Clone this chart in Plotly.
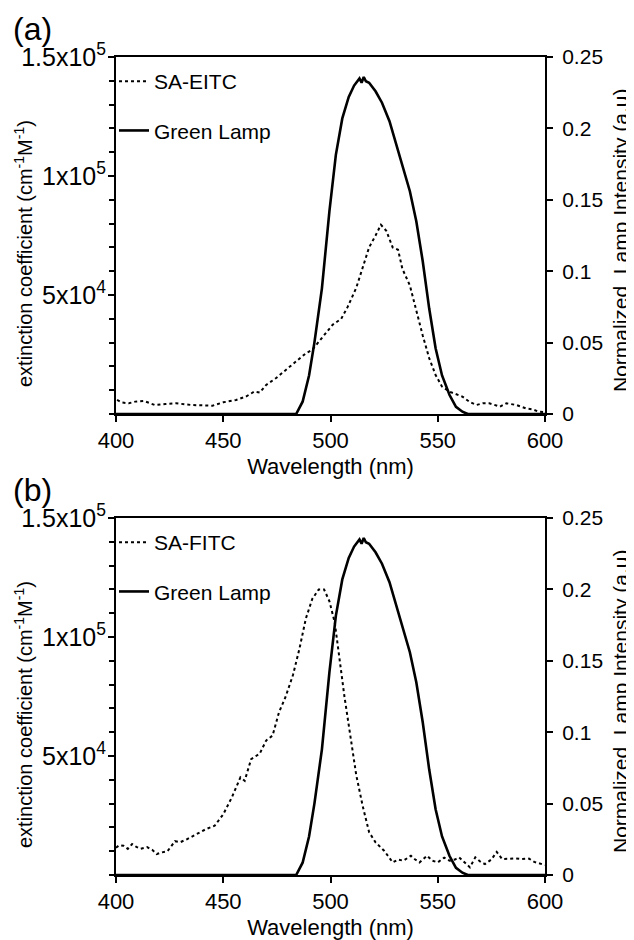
import plotly.graph_objects as go

# ---------------- data ----------------
lamp_nm = [400, 484, 487, 490, 492.5, 496, 499.5, 502.5, 505.5, 508.5, 511, 512.5, 513.5,
           514.5, 515.5, 516.5, 518, 521, 524, 527.5, 530.5, 533.5, 537, 540, 543, 546,
           549, 552, 555.5, 558.5, 561.5, 564, 600]
lamp_int = [0, 0, 0.0086, 0.027, 0.050, 0.088, 0.142, 0.1815, 0.207, 0.222, 0.230, 0.233,
            0.235, 0.232, 0.236, 0.233, 0.232, 0.226, 0.218, 0.205, 0.19, 0.1745, 0.156,
            0.135, 0.107, 0.074, 0.046, 0.027, 0.0133, 0.005, 0.0016, 0, 0]

eitc_nm = [400.5, 403, 406, 409, 413, 418, 423, 428, 435, 440, 445, 450, 456, 460.5, 464.5,
           467, 470, 474.5, 479, 484, 488.5, 491.5, 496, 501, 505, 508, 512, 515, 518,
           521, 523.5, 526, 529, 531.5, 533.5, 537, 540, 543, 546, 549, 552, 555.5,
           558, 561.5, 565, 568, 571, 574, 579, 582, 586.5, 591, 594, 597, 600]
eitc_ext = [5900, 4800, 4500, 5200, 5500, 3800, 4200, 4500, 3800, 3700, 3500, 4900, 5900,
            7300, 9400, 9000, 12200, 15000, 18500, 22000, 25500, 27000, 32000, 37500,
            40000, 45000, 53000, 62000, 70000, 75000, 79500, 77000, 70000, 69000, 61000,
            54000, 43000, 33000, 23500, 16400, 11500, 9400, 8500, 7300, 5000, 3800, 4500,
            4500, 3100, 4500, 3800, 2400, 2000, 1000, 800]

fitc_nm = [400, 401.5, 403.5, 405.5, 407.5, 409.5, 411.5, 414.5, 417, 419, 421.5, 424, 427.5,
           430, 433, 437.5, 442, 446, 450, 454, 458, 460, 463, 467, 470, 473, 476, 479, 482.5,
           485.5, 488.5, 491.5, 494.5, 497, 499.5, 502, 504, 506.5, 509, 512, 515, 518,
           521, 525, 529, 531.5, 534, 537.5, 539.5, 541.5, 545, 547.5, 550, 553, 555.5,
           558, 560, 562.5, 565, 567.5, 570, 572, 575, 577.5, 580, 583, 586, 589, 592.5,
           595, 598, 600]
fitc_ext = [11500, 12500, 12300, 11000, 13000, 11800, 11000, 11700, 10500, 8800, 9500,
            10000, 14200, 13800, 15000, 17200, 19300, 20700, 25500, 32600, 41000, 39600,
            48700, 51000, 56500, 58600, 68400, 74700, 84000, 95000, 107700, 116000, 120000,
            120000, 115000, 106000, 92000, 75000, 60000, 42000, 29000, 18000, 13700, 10200,
            5300, 6500, 6000, 8100, 6500, 5300, 8100, 6000, 5300, 7300, 6000, 6500, 7400,
            5500, 3200, 7400, 5500, 4600, 6500, 9700, 6700, 6800, 7000, 6700, 6900, 5500,
            4600, 4200]

x_tickvals = [400, 450, 500, 550, 600]
x_ticktext = ["400", "450", "500", "550", "600"]
ext_tickvals = [50000, 100000, 150000]
ext_ticktext = ["5x10<sup>4</sup>", "1x10<sup>5</sup>", "1.5x10<sup>5</sup>"]
lamp_tickvals = [0, 0.05, 0.1, 0.15, 0.2, 0.25]
lamp_ticktext = ["0", "0.05", "0.1", "0.15", "0.2", "0.25"]

panel_labels = ["(a)", "(b)"]
dye_names = ["SA-EITC", "SA-FITC"]
lamp_name = "Green Lamp"
x_title = "Wavelength (nm)"
left_title = "extinction coefficient (cm<sup>-1</sup>M<sup>-1</sup>)"
right_title = "Normalized  Lamp Intensity (a.u)"

# ---------------- layout geometry ----------------
# the page body has a default 8px margin, so the figure is offset by 8px
OFF = 8
WIN_W, WIN_H = 634, 940
W, H = WIN_W - OFF, WIN_H - OFF
# target pixel positions in the window
PL, PR = 116, 545          # plot left / right edges
TOP_T, TOP_B = 57, 414     # top panel
BOT_T, BOT_B = 518, 875    # bottom panel

ML = PL - OFF
MR = WIN_W - PR
MT = TOP_T - OFF
MB = WIN_H - BOT_B
PH = H - MT - MB
PW = W - ML - MR


def py(pix):  # window pixel y -> paper y
    return (WIN_H - MB - pix) / PH


def px(pix):  # window pixel x -> paper x
    return (pix - PL) / PW


FONT = "Arial, Liberation Sans, sans-serif"
top_dom = [py(TOP_B), 1.0]
bot_dom = [0.0, py(BOT_T)]

fig = go.Figure()

dye_data = [(eitc_nm, eitc_ext), (fitc_nm, fitc_ext)]
for i, (nm, ext) in enumerate(dye_data):
    xa = "x" if i == 0 else "x2"
    ya_l = "y" if i == 0 else "y3"
    ya_r = "y2" if i == 0 else "y4"
    lg = "legend" if i == 0 else "legend2"
    fig.add_trace(go.Scatter(x=nm, y=ext, mode="lines", name=dye_names[i],
                             xaxis=xa, yaxis=ya_l, legend=lg, legendgroup="a%d" % i,
                             line=dict(color="black", width=2, dash="dot")))
    fig.add_trace(go.Scatter(x=lamp_nm, y=lamp_int, mode="lines", name=lamp_name,
                             xaxis=xa, yaxis=ya_r, legend=lg, legendgroup="b%d" % i,
                             line=dict(color="black", width=2.6)))

axis_common = dict(showline=True, linecolor="black", linewidth=2, showgrid=False,
                   zeroline=False, ticks="outside", ticklen=6, tickwidth=2,
                   tickcolor="black")

for i, dom in enumerate([top_dom, bot_dom]):
    sfx_x = "" if i == 0 else "2"
    sfx_l = "" if i == 0 else "3"
    sfx_r = "2" if i == 0 else "4"
    anchor_l = "y" if i == 0 else "y3"
    x_anchor = "x" if i == 0 else "x2"
    fig.update_layout(**{
        "xaxis" + sfx_x: dict(domain=[0, 1], anchor=anchor_l, range=[400, 600],
                              tickmode="array", tickvals=x_tickvals, ticktext=x_ticktext,
                              tickfont=dict(size=22, color="black", family=FONT),
                              mirror=True,
                              title=dict(text=x_title, standoff=6,
                                         font=dict(size=22, color="black", family=FONT)),
                              automargin=False, **axis_common),
        "yaxis" + sfx_l: dict(domain=dom, anchor=x_anchor, range=[0, 150000],
                              tickmode="array", tickvals=ext_tickvals, ticktext=ext_ticktext,
                              tickfont=dict(size=25, color="black", family=FONT),
                              ticklabelstandoff=-3,
                              minor=dict(tickmode="linear", tick0=0, dtick=10000,
                                         ticks="outside", ticklen=5, tickwidth=2,
                                         tickcolor="black"),
                              automargin=False, **axis_common),
        "yaxis" + sfx_r: dict(overlaying=anchor_l, side="right", anchor=x_anchor,
                              range=[0, 0.25], tickmode="array", tickvals=lamp_tickvals,
                              ticktext=lamp_ticktext, ticklabelstandoff=5,
                              tickfont=dict(size=21, color="black", family=FONT),
                              automargin=False, **axis_common),
    })

leg_common = dict(bgcolor="rgba(0,0,0,0)", borderwidth=0, traceorder="grouped",
                  tracegroupgap=19, itemwidth=30,
                  font=dict(size=21, color="black", family=FONT),
                  xanchor="left", yanchor="top")
fig.update_layout(
    legend=dict(x=px(114), y=py(61), **leg_common),
    legend2=dict(x=px(114), y=py(522), **leg_common),
)

annotations = []
for i, off in enumerate([0, 461]):
    annotations.append(dict(text=panel_labels[i], xref="paper", yref="paper",
                            x=px(11), y=py(29 + off), xanchor="left", yanchor="middle",
                            showarrow=False, font=dict(size=32, color="black", family=FONT)))
    annotations.append(dict(text=left_title, xref="paper", yref="paper",
                            x=px(23), y=py(254 + off), xanchor="center", yanchor="middle",
                            textangle=-90, showarrow=False,
                            font=dict(size=20, color="black", family=FONT)))
    annotations.append(dict(text=right_title, xref="paper", yref="paper",
                            x=px(620), y=py(241 + off), xanchor="center", yanchor="middle",
                            textangle=-90, showarrow=False,
                            font=dict(size=21, color="black", family=FONT)))

fig.update_layout(
    width=W, height=H,
    margin=dict(l=ML, r=MR, t=MT, b=MB, pad=0),
    paper_bgcolor="white", plot_bgcolor="white",
    showlegend=True,
    annotations=annotations,
    font=dict(family=FONT, color="black"),
)

fig.write_html("out.html")
